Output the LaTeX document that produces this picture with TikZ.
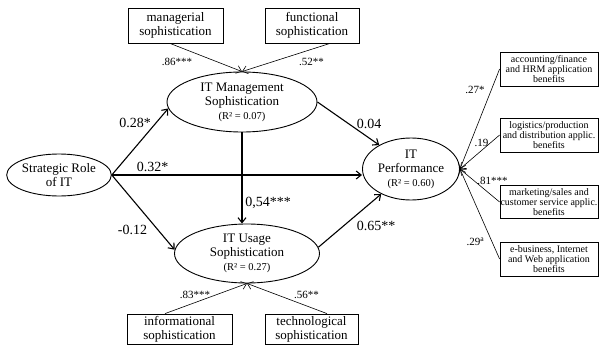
\documentclass[tikz,border=0pt]{standalone}
\usepackage{fontspec}
\setmainfont{Liberation Serif}
\usetikzlibrary{shapes.geometric,arrows.meta}
\begin{document}
\begin{tikzpicture}[x=1pt,y=-1pt,
  lat/.style={ellipse,draw,line width=0.9pt,inner sep=0pt,align=center,font=\fontsize{13}{14}\selectfont},
  ind/.style={rectangle,draw,line width=0.8pt,inner sep=0pt,align=center,font=\fontsize{13}{14}\selectfont},
  bind/.style={rectangle,draw,line width=0.8pt,inner sep=0pt,align=center,font=\fontsize{10}{10}\selectfont},
  strpath/.style={line width=1.1pt,-{Straight Barb[length=5pt,width=8pt]}},
  ldarrow/.style={line width=0.6pt,-{Straight Barb[length=5pt,width=8pt]}},
  plab/.style={font=\fontsize{14}{14}\selectfont,inner sep=0pt},
  llab/.style={font=\fontsize{11}{11}\selectfont,inner sep=0pt},
  rsq/.style={font=\fontsize{10.5}{12}\selectfont}]
\useasboundingbox (0,0) rectangle (599,345);

% latent variables
\node[lat,minimum width=92,minimum height=42] (sr) at (59,175) {Strategic Role\\of IT};
\node[lat,minimum width=150,minimum height=60] (ims) at (242,102) {IT Management\\Sophistication\\{\fontsize{10.5}{12}\selectfont(R² = 0.07)}};
\node[lat,minimum width=145,minimum height=59] (ius) at (247,253.5) {IT Usage\\Sophistication\\{\fontsize{10.5}{12}\selectfont(R² = 0.27)}};
\node[lat,minimum width=97,minimum height=62] (perf) at (411,169) {IT\\Performance\\{\fontsize{10.5}{12}\selectfont(R² = 0.60)}};

% indicators
\node[ind,minimum width=95,minimum height=35] (mgr) at (175.5,25.5) {managerial\\sophistication};
\node[ind,minimum width=94,minimum height=35] (fun) at (312,25.5) {functional\\sophistication};
\node[ind,minimum width=105,minimum height=30.5] (inf) at (179.5,329.25) {informational\\sophistication};
\node[ind,minimum width=93,minimum height=30.5] (tec) at (311.5,329.25) {technological\\sophistication};

\node[bind,minimum width=98,minimum height=34] (acc) at (549,69) {accounting/finance\\and HRM application\\benefits};
\node[bind,minimum width=98,minimum height=34] (log) at (549,135) {logistics/production\\and distribution applic.\\benefits};
\node[bind,minimum width=98,minimum height=33] (mkt) at (549,202) {marketing/sales and\\customer service applic.\\benefits};
\node[bind,minimum width=98,minimum height=34] (eb) at (549,259) {e-business, Internet\\and Web application\\benefits};

% structural paths
\draw[strpath] (sr.east) -- (ims.185);
\draw[strpath] (sr.east) -- (ius.177);
\draw[strpath] (sr.east) -- (sr.east -| perf.west);
\draw[strpath] (ims.east) -- (perf.143);
\draw[strpath] (ius.5) -- (perf.220);
\draw[strpath] (ims.south) -- (ims.south |- ius.north);

% loadings
\draw[ldarrow] ([xshift=-5.5pt]mgr.south) -- (ims.north);
\draw[ldarrow] ([xshift=18pt]fun.south) -- (ims.north);
\draw[ldarrow] ([xshift=-14.5pt]inf.north) -- (ius.south);
\draw[ldarrow] ([xshift=15.5pt]tec.north) -- (ius.south);
\draw[ldarrow] (acc.west) -- (perf.east);
\draw[ldarrow] (log.west) -- (perf.east);
\draw[ldarrow] (mkt.west) -- (perf.east);
\draw[ldarrow] (eb.west) -- (perf.east);

% path labels
\node[plab] (l1) at (135,123) {0.28*};
\node[plab] (l2) at (152.5,167) {0.32*};
\node[plab] (l3) at (132.5,230) {-0.12};
\node[plab] (l4) at (369,124) {0.04};
\node[plab] (l5) at (268,203) {0,54***};
\node[plab] (l6) at (376,226) {0.65**};

% loading labels
\node[llab] (m1) at (177,62) {.86***};
\node[llab] (m2) at (311.5,62) {.52**};
\node[llab] (m3) at (195,295) {.83***};
\node[llab] (m4) at (306.5,295) {.56**};
\node[llab] (m5) at (475,90) {.27*};
\node[llab] (m6) at (481.5,143) {.19};
\node[llab] (m7) at (492.5,181) {.81***};
\node[llab] (m8) at (475.5,242) {.29\textsuperscript{a}};
\end{tikzpicture}
\end{document}
